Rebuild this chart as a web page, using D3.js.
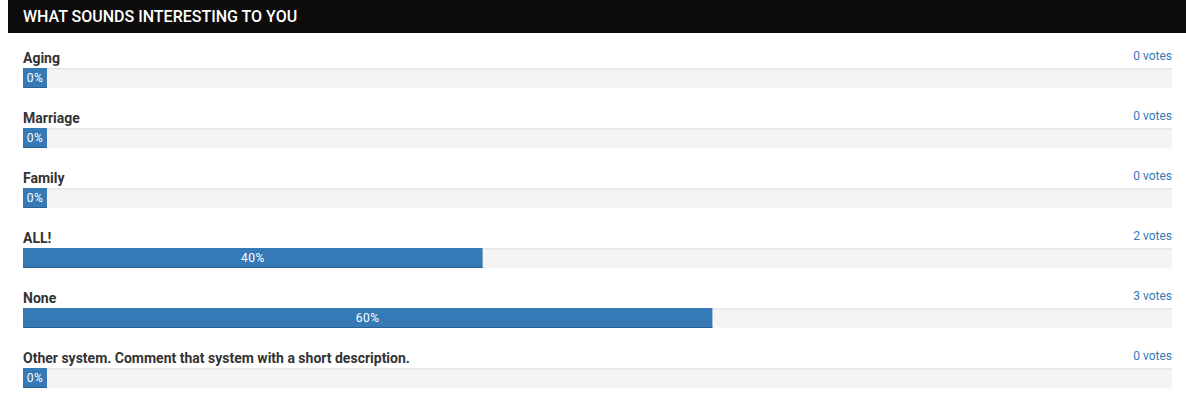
<!DOCTYPE html>
<html>
<head>
<meta charset="utf-8">
<script src="https://cdn.jsdelivr.net/npm/d3@7"></script>
<style>
  body { margin: 0; background: #fff; }
  svg { display: block; font-family: Roboto, "Noto Sans", sans-serif; }
</style>
</head>
<body>
<div id="chart"></div>
<script>
var width = 1186;
var height = 397;

var title = 'WHAT SOUNDS INTERESTING TO YOU';
var answers = ['Aging', 'Marriage', 'Family', 'ALL!', 'None',
  'Other system. Comment that system with a short description.'];
var votes = [0, 0, 0, 2, 3, 0];
var percents = [0, 0, 0, 40, 60, 0];

var left = 23;
var right = 1172;
var firstRow = 48;
var rowStep = 60;
var barHeight = 20;
var minBar = 24;

var svg = d3.select('#chart')
    .append('svg')
    .attr('width', width)
    .attr('height', height);

// header strip
svg.append('rect')
    .attr('x', 8)
    .attr('y', 0)
    .attr('width', width - 8)
    .attr('height', 33)
    .attr('fill', '#0e0b0b');
svg.append('text')
    .attr('x', left)
    .attr('y', 21.5)
    .attr('fill', '#fff')
    .style('font-size', '16px')
    .style('font-weight', 500)
    .text(title);

var x = d3.scaleLinear().domain([0, 100]).range([0, right - left]);
var y = d3.scaleBand().domain(d3.range(answers.length))
    .range([firstRow, firstRow + rowStep * answers.length])
    .paddingInner(0).paddingOuter(0);

var defs = svg.append('defs');
var grad = defs.append('linearGradient')
    .attr('id', 'track')
    .attr('x1', 0).attr('y1', 0).attr('x2', 0).attr('y2', 1);
grad.append('stop').attr('offset', 0).attr('stop-color', '#e2e2e2');
grad.append('stop').attr('offset', 0.12).attr('stop-color', '#f4f4f4');
grad.append('stop').attr('offset', 1).attr('stop-color', '#f4f4f4');

var rows = svg.selectAll('.row')
    .data(answers)
    .enter()
    .append('g')
    .attr('class', 'row')
    .attr('transform', function(d, i) { return 'translate(0,' + y(i) + ')'; });

rows.append('text')
    .attr('x', left)
    .attr('y', 15)
    .attr('fill', '#333')
    .style('font-size', '14px')
    .style('font-weight', 700)
    .text(function(d) { return d; });

rows.append('text')
    .attr('x', right)
    .attr('y', 12)
    .attr('text-anchor', 'end')
    .attr('fill', '#337ab7')
    .style('font-size', '12px')
    .text(function(d, i) { return votes[i] + ' votes'; });

rows.append('rect')
    .attr('x', left)
    .attr('y', 20)
    .attr('width', right - left)
    .attr('height', barHeight)
    .attr('fill', 'url(#track)');

rows.append('rect')
    .attr('x', left)
    .attr('y', 20)
    .attr('width', function(d, i) { return Math.max(minBar, x(percents[i])); })
    .attr('height', barHeight)
    .attr('fill', '#357ab7');

rows.append('rect')
    .attr('x', left)
    .attr('y', 20 + barHeight - 1)
    .attr('width', function(d, i) { return Math.max(minBar, x(percents[i])); })
    .attr('height', 1)
    .attr('fill', '#2a6296');

rows.append('text')
    .attr('x', function(d, i) { return left + Math.max(minBar, x(percents[i])) / 2; })
    .attr('y', 34)
    .attr('text-anchor', 'middle')
    .attr('fill', '#fff')
    .style('font-size', '12px')
    .style('letter-spacing', '0.5px')
    .text(function(d, i) { return percents[i] + '%'; });
</script>
</body>
</html>
